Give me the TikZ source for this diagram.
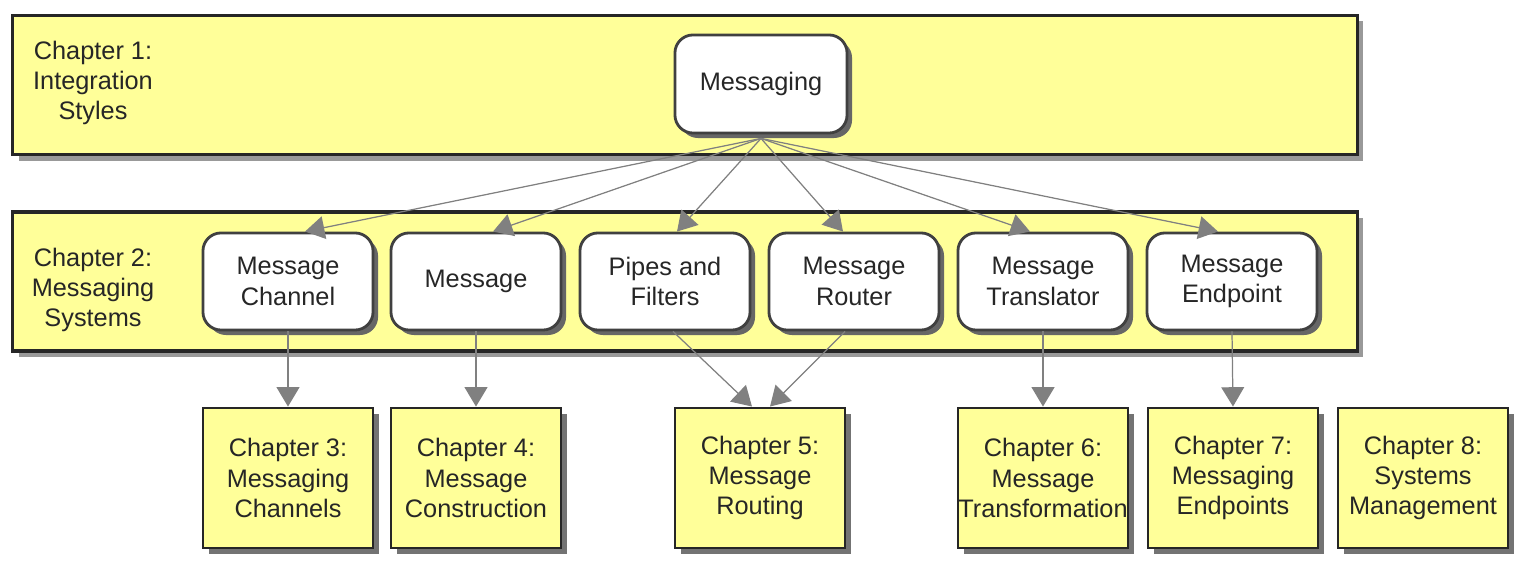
\documentclass[tikz,border=0pt]{standalone}
\usepackage{fontspec}
\setmainfont{Liberation Sans}
\usetikzlibrary{arrows.meta,shadows}
\definecolor{chapfill}{RGB}{255,255,153}
\definecolor{linkgray}{RGB}{128,128,128}
\tikzset{
  every node/.style={font=\fontsize{7.2}{8.6}\selectfont, text=black!85, align=center, inner sep=0pt},
  band/.style={draw=black!85, line width=0.9pt, fill=chapfill, minimum width=13.44cm, minimum height=1.39cm,
    drop shadow={shadow xshift=0.06cm, shadow yshift=-0.06cm, fill=black!40, opacity=1}},
  topic/.style={draw=black!75, line width=0.8pt, fill=white, rounded corners=0.18cm, minimum width=1.70cm, minimum height=0.97cm,
    drop shadow={shadow xshift=0.05cm, shadow yshift=-0.05cm, fill=black!60, opacity=1}},
  chapter/.style={draw=black!85, line width=0.8pt, fill=chapfill, minimum width=1.70cm, minimum height=1.40cm,
    drop shadow={shadow xshift=0.06cm, shadow yshift=-0.06cm, fill=black!55, opacity=1}},
  link/.style={draw=linkgray, line width=0.35pt, -{Triangle[width=6.5pt,length=5.5pt]}, fill=linkgray}
}
\begin{document}
\begin{tikzpicture}[x=0.01cm, y=-0.01cm]
	\useasboundingbox (0,0) rectangle (1526,568);
	% the two bands
	\node[band] (band1) at (685,85) {};
	\node[band] (band2) at (685,281.5) {};
	\node (lbl1) at (93,83) {Chapter 1:\\Integration\\Styles};
	\node (lbl2) at (93,290) {Chapter 2:\\Messaging\\Systems};
	% patterns
	\node[topic, minimum width=1.72cm, minimum height=0.98cm] (msg) at (761,84) {Messaging};
	\node[topic] (chan) at (288,281.5) {Message\\Channel};
	\node[topic] (message) at (476,281.5) {Message};
	\node[topic] (pipes) at (665,281.5) {Pipes and\\Filters};
	\node[topic] (router) at (854,281.5) {Message\\Router};
	\node[topic] (transl) at (1043,281.5) {Message\\Translator};
	\node[topic] (endpt) at (1232,281.5) {Message\\Endpoint};
	% chapters
	\node[chapter] (ch3) at (288,478) {Chapter 3:\\Messaging\\Channels};
	\node[chapter] (ch4) at (476,478) {Chapter 4:\\Message\\Construction};
	\node[chapter] (ch5) at (760,478) {Chapter 5:\\Message\\Routing};
	\node[chapter] (ch6) at (1043,478) {Chapter 6:\\Message\\Transformation};
	\node[chapter] (ch7) at (1233,478) {Chapter 7:\\Messaging\\Endpoints};
	\node[chapter] (ch8) at (1423,478) {Chapter 8:\\Systems\\Management};
	% links
	\draw[link] ([yshift=-0.04cm]msg.south) -- ([xshift=0.17cm]chan.north);
	\draw[link] ([yshift=-0.04cm]msg.south) -- ([xshift=0.17cm]message.north);
	\draw[link] ([yshift=-0.04cm]msg.south) -- ([xshift=0.12cm]pipes.north);
	\draw[link] ([yshift=-0.04cm]msg.south) -- ([xshift=-0.11cm]router.north);
	\draw[link] ([yshift=-0.04cm]msg.south) -- ([xshift=-0.13cm]transl.north);
	\draw[link] ([yshift=-0.04cm]msg.south) -- ([xshift=-0.14cm]endpt.north);
	\draw[link] (chan.south) -- (ch3.north);
	\draw[link] (message.south) -- (ch4.north);
	\draw[link] ([xshift=0.08cm]pipes.south) -- ([xshift=-0.08cm]ch5.north);
	\draw[link] ([xshift=-0.09cm]router.south) -- ([xshift=0.10cm]ch5.north);
	\draw[link] (transl.south) -- (ch6.north);
	\draw[link] (endpt.south) -- (ch7.north);
\end{tikzpicture}
\end{document}
